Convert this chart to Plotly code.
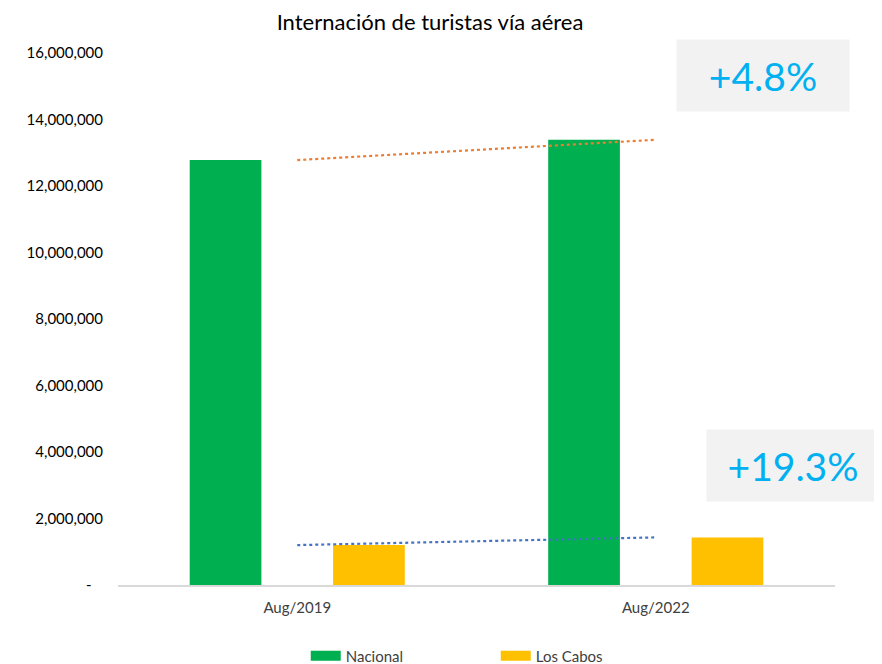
import plotly.graph_objects as go

categories = ["Aug/2019", "Aug/2022"]
nacional = [12780000, 13390000]
los_cabos = [1200000, 1432000]
tick_values = [0, 2000000, 4000000, 6000000, 8000000, 10000000, 12000000, 14000000, 16000000]
tick_labels = ["-\u00a0\u00a0\u00a0", "2,000,000", "4,000,000", "6,000,000", "8,000,000",
               "10,000,000", "12,000,000", "14,000,000", "16,000,000"]
pct_labels = ["+4.8%", "+19.3%"]

FONT = "Lato"
GREEN = "#00B050"
YELLOW = "#FFC000"

fig = go.Figure()
fig.add_trace(go.Bar(x=categories, y=nacional, name="Nacional", marker_color=GREEN,
                     marker_line_width=0, legendgroup="nac", showlegend=False))
fig.add_trace(go.Bar(x=categories, y=los_cabos, name="Los Cabos", marker_color=YELLOW,
                     marker_line_width=0, legendgroup="lc", showlegend=False))
fig.add_trace(go.Scatter(x=categories, y=nacional, mode="lines", showlegend=False,
                         line=dict(color="#ED7D31", width=2.2, dash="dot"), hoverinfo="skip"))
fig.add_trace(go.Scatter(x=categories, y=los_cabos, mode="lines", showlegend=False,
                         line=dict(color="#4472C4", width=2.2, dash="dot"), hoverinfo="skip"))
# legend swatches (wide rectangles like the original)
fig.add_trace(go.Scatter(x=[None], y=[None], mode="lines", name="Nacional", legendgroup="nac",
                         line=dict(color=GREEN, width=10)))
fig.add_trace(go.Scatter(x=[None], y=[None], mode="lines", name="Los Cabos", legendgroup="lc",
                         line=dict(color=YELLOW, width=10)))

fig.update_layout(
    width=882, height=664,
    margin=dict(l=110, r=55, t=45, b=87, autoexpand=False),
    paper_bgcolor="white", plot_bgcolor="white",
    barmode="group", bargap=0.2, bargroupgap=0.5,
    title=dict(text="Internación de turistas vía aérea", xref="container", x=0.4785,
               xanchor="center", yref="container", y=0.978, yanchor="middle",
               font=dict(family=FONT, size=22, color="#000000")),
    font=dict(family=FONT, size=15, color="#404040"),
    legend=dict(orientation="h", xref="container", x=0.553, xanchor="center",
                yref="container", y=0.0241, yanchor="middle",
                font=dict(family=FONT, size=15, color="#404040"),
                entrywidth=145, entrywidthmode="pixels"),
    showlegend=True,
)
fig.update_xaxes(showline=True, linecolor="#D9D9D9", linewidth=1.5, showgrid=False,
                 ticks="", tickfont=dict(family=FONT, size=15, color="#404040"),
                 ticklabelstandoff=8)
fig.update_yaxes(range=[0, 16000000], tickvals=tick_values, ticktext=tick_labels,
                 showgrid=False, zeroline=False, showline=False, ticks="",
                 ticklabelstandoff=14, tickfont=dict(family=FONT, size=15, color="#000000"))

fig.add_annotation(text=pct_labels[0], xref="paper", yref="paper", x=0.8996, y=0.9568,
                   xanchor="center", yanchor="middle", showarrow=False,
                   width=170, height=69, bgcolor="#F2F2F2", borderpad=1,
                   font=dict(family=FONT, size=39, color="#00B0F0"))
fig.add_annotation(text=pct_labels[1], xref="paper", yref="paper", x=0.9414, y=0.2246,
                   xanchor="center", yanchor="middle", showarrow=False,
                   width=170, height=69, bgcolor="#F2F2F2", borderpad=1,
                   font=dict(family=FONT, size=39, color="#00B0F0"))

fig.write_html("out.html")
